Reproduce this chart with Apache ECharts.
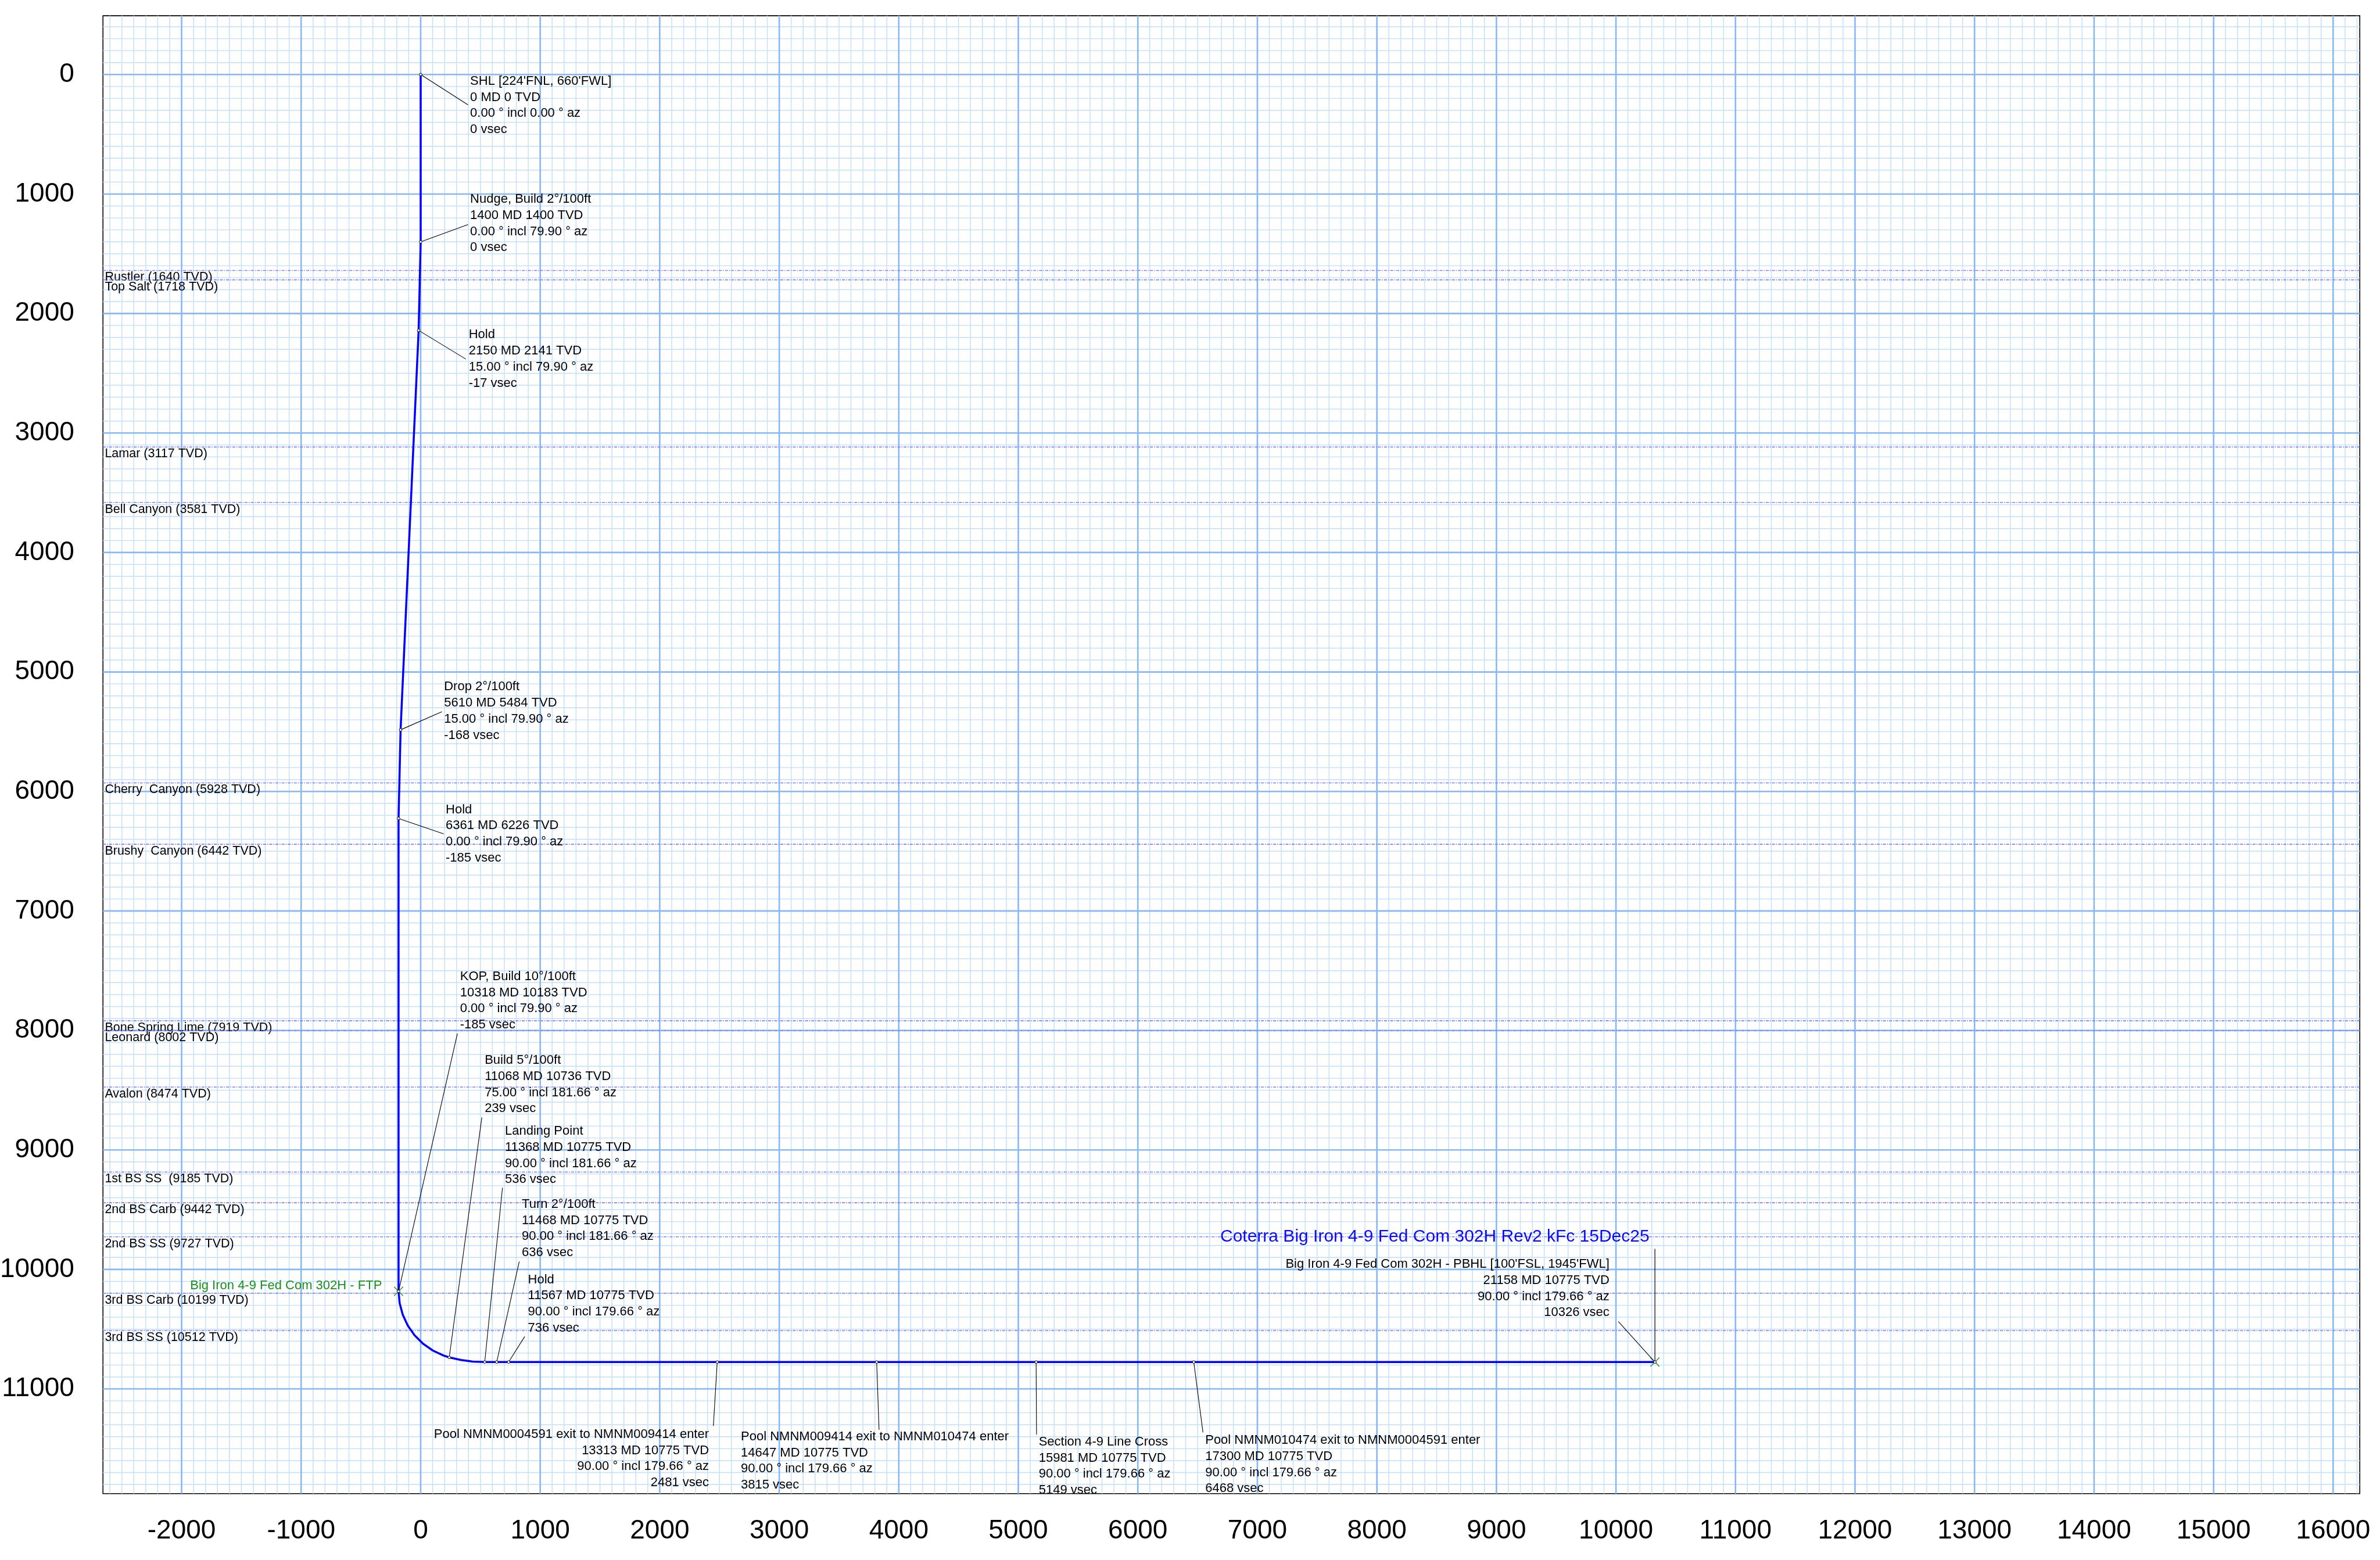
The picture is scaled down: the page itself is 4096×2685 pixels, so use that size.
<!DOCTYPE html>
<html>
<head>
<meta charset="utf-8">
<title>Big Iron 4-9 Fed Com 302H - Vertical Section</title>
<script src="https://cdn.jsdelivr.net/npm/echarts@6/dist/echarts.min.js"></script>
<style>
  html, body { margin: 0; padding: 0; background: #ffffff; }
  #chart { width: 4096px; height: 2685px; }
</style>
</head>
<body>
<div id="chart"></div>
<script>
// ---------------------------------------------------------------------------
// Well plan stations: vertical section (ft) vs. true vertical depth (ft)
// ---------------------------------------------------------------------------
const stationNames = [
  "SHL [224'FNL, 660'FWL]",
  'Nudge, Build 2°/100ft',
  'Hold',
  'Drop 2°/100ft',
  'Hold',
  'KOP, Build 10°/100ft',
  'Build 5°/100ft',
  'Landing Point',
  'Turn 2°/100ft',
  'Hold',
  'Pool NMNM0004591 exit to NMNM009414 enter',
  'Pool NMNM009414 exit to NMNM010474 enter',
  'Section 4-9 Line Cross',
  'Pool NMNM010474 exit to NMNM0004591 enter',
  "Big Iron 4-9 Fed Com 302H - PBHL [100'FSL, 1945'FWL]"
];
const stationMD   = [0, 1400, 2150, 5610, 6361, 10318, 11068, 11368, 11468, 11567, 13313, 14647, 15981, 17300, 21158];
const stationTVD  = [0, 1400, 2141, 5484, 6226, 10183, 10736, 10775, 10775, 10775, 10775, 10775, 10775, 10775, 10775];
const stationIncl = [0, 0, 15, 15, 0, 0, 75, 90, 90, 90, 90, 90, 90, 90, 90];
const stationAzi  = [0, 79.90, 79.90, 79.90, 79.90, 79.90, 181.66, 181.66, 181.66, 179.66, 179.66, 179.66, 179.66, 179.66, 179.66];
const stationVsec = [0, 0, -17, -168, -185, -185, 239, 536, 636, 736, 2481, 3815, 5149, 6468, 10326];

// Wellbore path, with points read along the 10°/100ft and 5°/100ft build curves
const pathVsec = [0, 0, -17, -168, -185, -185, -176, -150, -108, -51, 20, 102, 192, 239, 337, 436, 536, 10326];
const pathTVD  = [0, 1400, 2141, 5484, 6226, 10183, 10282, 10379, 10470, 10551, 10622, 10679, 10721, 10736, 10758, 10771, 10775, 10775];

// Formation tops (TVD, ft)
const formationNames = [
  'Rustler', 'Top Salt', 'Lamar', 'Bell Canyon', 'Cherry  Canyon', 'Brushy  Canyon',
  'Bone Spring Lime', 'Leonard', 'Avalon', '1st BS SS ', '2nd BS Carb', '2nd BS SS',
  '3rd BS Carb', '3rd BS SS'
];
const formationTVD = [1640, 1718, 3117, 3581, 5928, 6442, 7919, 8002, 8474, 9185, 9442, 9727, 10199, 10512];

// Targets
const targetNames = ['Big Iron 4-9 Fed Com 302H - FTP', 'Big Iron 4-9 Fed Com 302H - PBHL'];
const targetVsec  = [-185, 10326];
const targetTVD   = [10183, 10775];

// Axis tick labels
const xTickValues = [-2000, -1000, 0, 1000, 2000, 3000, 4000, 5000, 6000, 7000, 8000,
                     9000, 10000, 11000, 12000, 13000, 14000, 15000, 16000];
const yTickValues = [0, 1000, 2000, 3000, 4000, 5000, 6000, 7000, 8000, 9000, 10000, 11000];

const planTitle = 'Coterra Big Iron 4-9 Fed Com 302H Rev2 kFc 15Dec25';

// ---------------------------------------------------------------------------
// Layout and styling
// ---------------------------------------------------------------------------
const FONT = '"Liberation Sans", Arial, Helvetica, sans-serif';
const X_RANGE = [-2658, 16223];
const Y_RANGE = [-492, 11876];
const GRID_STEP_MAJOR = 1000;
const GRID_STEP_MINOR = 100;
const NOTE_SIZE = 22;
const NOTE_LINE = 27.7;
const GREEN = '#1a8f1a';

// Callout placement: leader end and first-line anchor, in px from the station
const calloutLayout = [
  { lead: [81.5, 52.2],    text: [85.1, 11.7],    align: 'left' },
  { lead: [81.5, -29.7],   text: [85.1, -73.1],   align: 'left' },
  { lead: [81.3, 49.5],    text: [86.2, 7.8],     align: 'left' },
  { lead: [71.1, -31.1],   text: [74.8, -73.7],   align: 'left' },
  { lead: [77.7, 26.5],    text: [81.1, -15.0],   align: 'left' },
  { lead: [101.3, -443.6], text: [105.8, -541.5], align: 'left' },
  { lead: [56.1, -412.8],  text: [61.0, -511.2],  align: 'left' },
  { lead: [30.5, -300.0],  text: [34.7, -397.0],  align: 'left' },
  { lead: [38.8, -173.0],  text: [43.3, -271.4],  align: 'left' },
  { lead: [27.6, -43.9],   text: [33.2, -141.7],  align: 'left' },
  { lead: [-6.6, 110.0],   text: [-14.3, 124.7],  align: 'right' },
  { lead: [4.1, 116.7],    text: [-233.7, 128.5], align: 'left' },
  { lead: [0.7, 124.7],    text: [4.5, 137.7],    align: 'left' },
  { lead: [15.8, 121.1],   text: [19.7, 134.8],   align: 'left' },
  { lead: [-62.9, -69.7],  text: [-78.3, -168.1], align: 'right' }
];
const targetLayout = [
  { label: [-28.6, -10.0] },
  { stem: -194.8 }
];

function gridValues(lo, hi, step) {
  const out = [];
  for (let v = Math.ceil(lo / step) * step; v <= hi; v += step) out.push(v);
  return out;
}

function calloutText(i) {
  return [
    stationNames[i],
    stationMD[i] + ' MD ' + stationTVD[i] + ' TVD',
    stationIncl[i].toFixed(2) + ' ° incl ' + stationAzi[i].toFixed(2) + ' ° az',
    stationVsec[i] + ' vsec'
  ].join('\n');
}

// Graph-paper grid: light lines every 100 ft, heavier lines every 1000 ft
function renderPaper(params, api) {
  const cs = params.coordSys;
  const minor = { stroke: '#c0defd', lineWidth: 1.4 };
  const major = { stroke: '#87b8f4', lineWidth: 2.6 };
  const children = [];
  const vline = (v, style) => {
    const x = api.coord([v, Y_RANGE[0]])[0];
    children.push({ type: 'line', shape: { x1: x, y1: cs.y, x2: x, y2: cs.y + cs.height }, style });
  };
  const hline = (v, style) => {
    const y = api.coord([X_RANGE[0], v])[1];
    children.push({ type: 'line', shape: { x1: cs.x, y1: y, x2: cs.x + cs.width, y2: y }, style });
  };
  gridValues(X_RANGE[0], X_RANGE[1], GRID_STEP_MINOR).forEach(v => { if (v % GRID_STEP_MAJOR) vline(v, minor); });
  gridValues(Y_RANGE[0], Y_RANGE[1], GRID_STEP_MINOR).forEach(v => { if (v % GRID_STEP_MAJOR) hline(v, minor); });
  gridValues(X_RANGE[0], X_RANGE[1], GRID_STEP_MAJOR).forEach(v => vline(v, major));
  gridValues(Y_RANGE[0], Y_RANGE[1], GRID_STEP_MAJOR).forEach(v => hline(v, major));
  return { type: 'group', children };
}

function renderFormation(params, api) {
  const cs = params.coordSys;
  const i = params.dataIndex;
  const y = api.coord([api.value(0), api.value(1)])[1];
  return {
    type: 'group',
    children: [
      { type: 'line', shape: { x1: cs.x, y1: y, x2: cs.x + cs.width, y2: y },
        style: { stroke: '#7e7ef6', lineWidth: 1.6, lineDash: [5, 2, 1.6, 2] } },
      { type: 'text',
        style: { text: formationNames[i] + ' (' + formationTVD[i] + ' TVD)', x: cs.x + 3.2, y: y + 12,
                 align: 'left', verticalAlign: 'middle', fill: '#000000',
                 fontSize: 21.5, fontFamily: FONT } }
    ]
  };
}

function renderTarget(params, api) {
  const i = params.dataIndex;
  const p = api.coord([api.value(0), api.value(1)]);
  const h = 7.8;
  const lay = targetLayout[i];
  const children = [
    { type: 'line', shape: { x1: p[0] - h, y1: p[1] - h, x2: p[0] + h, y2: p[1] + h }, style: { stroke: GREEN, lineWidth: 1.3 } },
    { type: 'line', shape: { x1: p[0] - h, y1: p[1] + h, x2: p[0] + h, y2: p[1] - h }, style: { stroke: GREEN, lineWidth: 1.3 } }
  ];
  if (lay.stem) {
    children.push({ type: 'line', shape: { x1: p[0], y1: p[1], x2: p[0], y2: p[1] + lay.stem },
                    style: { stroke: '#000000', lineWidth: 1.2 } });
  }
  if (lay.label) {
    children.push({ type: 'text',
      style: { text: targetNames[i], x: p[0] + lay.label[0], y: p[1] + lay.label[1],
               align: 'right', verticalAlign: 'middle', fill: GREEN, fontSize: NOTE_SIZE, fontFamily: FONT } });
  }
  return { type: 'group', children };
}

function renderCallout(params, api) {
  const i = params.dataIndex;
  const p = api.coord([api.value(0), api.value(1)]);
  const lay = calloutLayout[i];
  return {
    type: 'group',
    children: [
      { type: 'line', shape: { x1: p[0], y1: p[1], x2: p[0] + lay.lead[0], y2: p[1] + lay.lead[1] },
        style: { stroke: '#000000', lineWidth: 1.1 } },
      { type: 'circle', shape: { cx: p[0], cy: p[1], r: 2.3 },
        style: { fill: '#ffffff', stroke: '#000000', lineWidth: 1 } },
      { type: 'text',
        style: { text: calloutText(i), x: p[0] + lay.text[0], y: p[1] + lay.text[1] - NOTE_LINE / 2,
                 align: lay.align, verticalAlign: 'top', lineHeight: NOTE_LINE,
                 fill: '#000000', fontSize: NOTE_SIZE, fontFamily: FONT } }
    ]
  };
}

const plainNumber = v => String(v);

const chart = echarts.init(document.getElementById('chart'), null, { renderer: 'canvas' });

chart.setOption({
  animation: false,
  backgroundColor: '#ffffff',
  title: {
    text: planTitle,
    left: 2100,
    top: 2114,
    padding: 0,
    textStyle: { color: '#0a0aff', fontSize: 30, fontWeight: 'normal', fontFamily: FONT }
  },
  grid: {
    show: true,
    left: 177.2,
    top: 27.1,
    width: 3884,
    height: 2543.6,
    containLabel: false,
    outerBoundsMode: 'none',
    backgroundColor: '#ffffff',
    borderColor: '#000000',
    borderWidth: 1.6
  },
  xAxis: {
    type: 'value',
    min: X_RANGE[0],
    max: X_RANGE[1],
    axisLine: { show: false },
    axisTick: { show: false },
    splitLine: { show: false },
    axisLabel: {
      customValues: xTickValues,
      formatter: plainNumber,
      color: '#000000',
      fontSize: 46,
      fontFamily: FONT,
      margin: 42
    }
  },
  yAxis: {
    type: 'value',
    inverse: true,
    min: Y_RANGE[0],
    max: Y_RANGE[1],
    axisLine: { show: false },
    axisTick: { show: false },
    splitLine: { show: false },
    axisLabel: {
      customValues: yTickValues,
      formatter: plainNumber,
      color: '#000000',
      fontSize: 46,
      fontFamily: FONT,
      margin: 49.4
    }
  },
  series: [
    {
      name: 'paper',
      type: 'custom',
      coordinateSystem: 'cartesian2d',
      silent: true,
      z: 1,
      encode: { x: 0, y: 1 },
      data: [[X_RANGE[0], Y_RANGE[0]]],
      renderItem: renderPaper
    },
    {
      name: 'formations',
      type: 'custom',
      coordinateSystem: 'cartesian2d',
      silent: true,
      z: 2,
      encode: { x: 0, y: 1 },
      data: formationTVD.map(v => [X_RANGE[0], v]),
      renderItem: renderFormation
    },
    {
      name: 'wellbore',
      type: 'line',
      z: 3,
      showSymbol: false,
      smooth: false,
      lineStyle: { color: '#0000ff', width: 3.5 },
      data: pathVsec.map((v, i) => [v, pathTVD[i]])
    },
    {
      name: 'targets',
      type: 'custom',
      coordinateSystem: 'cartesian2d',
      silent: true,
      z: 4,
      encode: { x: 0, y: 1 },
      data: targetVsec.map((v, i) => [v, targetTVD[i]]),
      renderItem: renderTarget
    },
    {
      name: 'stations',
      type: 'custom',
      coordinateSystem: 'cartesian2d',
      silent: true,
      z: 5,
      encode: { x: 0, y: 1 },
      data: stationVsec.map((v, i) => [v, stationTVD[i]]),
      renderItem: renderCallout
    }
  ]
});
</script>
</body>
</html>
